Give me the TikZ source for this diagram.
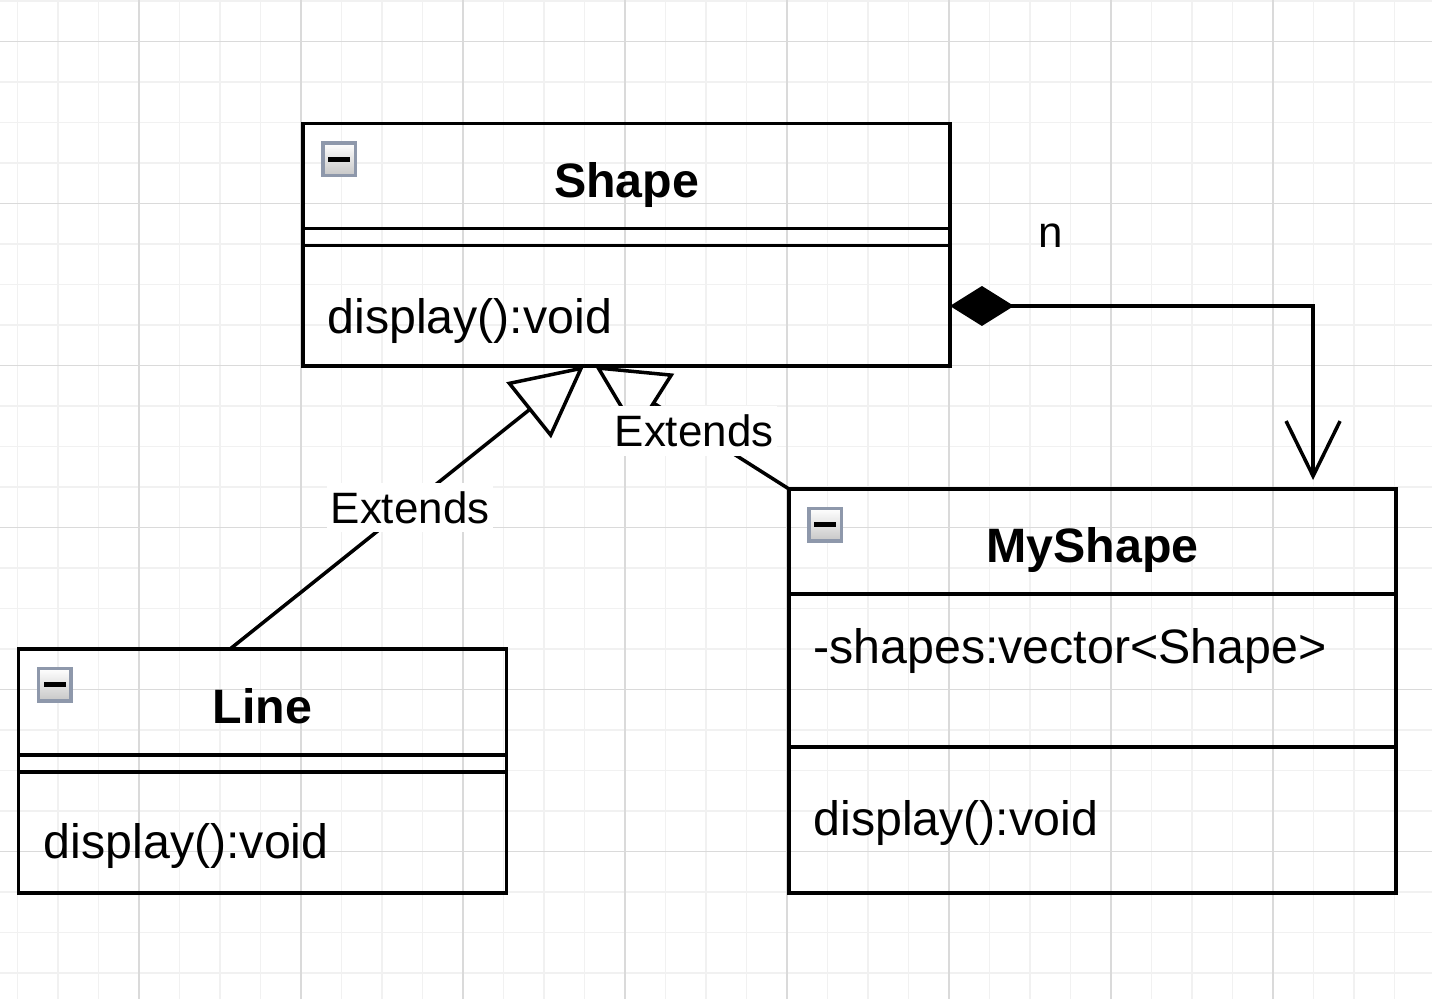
\documentclass[tikz,border=0pt]{standalone}
\usepackage{fontspec}
\setmainfont{Liberation Sans}
\usetikzlibrary{calc,arrows.meta}

\definecolor{gridmajor}{HTML}{DADADA}
\definecolor{gridminor}{HTML}{F1F1F1}
\definecolor{icongray}{HTML}{8E98AB}

\tikzset{
  classbox/.style={draw,line width=2.1pt,inner sep=0pt,outer sep=0pt},
  classname/.style={font=\fontsize{27.5}{33}\selectfont\bfseries,anchor=base,inner sep=0pt},
  member/.style={font=\fontsize{27.5}{33}\selectfont,anchor=base west,inner sep=0pt},
  divider/.style={line width=2pt},
  edgelabel/.style={font=\fontsize{25}{30}\selectfont,fill=white,inner xsep=2pt,inner ysep=5pt},
  multlabel/.style={font=\fontsize{25}{30}\selectfont,anchor=base,inner sep=0pt},
  iconbox/.style={draw=icongray,line width=2pt,minimum size=0.65cm,inner sep=0pt,
    top color=white,bottom color=black!22,
    path picture={\fill ([xshift=-0.22cm,yshift=-0.05cm]path picture bounding box.center)
      rectangle ++(0.44cm,0.1cm);}},
  extends/.style={line width=2pt,-{Triangle[open,length=1.42cm,width=1.42cm]}},
  compose/.style={line width=2pt,line join=miter,
    {Diamond[length=1.28cm,width=0.8cm]}-{Straight Barb[length=1.1cm,width=1.08cm]}}
}

\begin{document}
\begin{tikzpicture}[x=0.02cm,y=-0.02cm]

\useasboundingbox (0,0) rectangle (1432,999);

% -----------------------
% Background grid
% -----------------------
\foreach \i in {0,...,35} {
  \draw[gridminor,line width=0.6pt] ({17.5+40.5*\i},0) -- ({17.5+40.5*\i},999);
}
\foreach \j in {0,...,24} {
  \draw[gridminor,line width=0.6pt] (0,{1+40.5*\j}) -- (1432,{1+40.5*\j});
}
\foreach \i in {1,...,8} {
  \draw[gridmajor,line width=0.6pt] ({-23+162*\i},0) -- ({-23+162*\i},999);
}
\foreach \j in {0,...,5} {
  \draw[gridmajor,line width=0.6pt] (0,{41.5+162*\j}) -- (1432,{41.5+162*\j});
}

% -----------------------
% Classes
% -----------------------
\node[classbox,minimum width=12.94cm,minimum height=4.85cm] (shape) at (626.5,244.75) {};
\node[classbox,minimum width=9.76cm,minimum height=4.88cm] (line) at (262.5,771) {};
\node[classbox,minimum width=12.14cm,minimum height=8.08cm] (myshape) at (1092.5,691) {};

% Shape
\node[iconbox] (shapeicon) at ($(shape.north west)+(36,35.5)$) {};
\node[classname] (shapename) at ($(shape.north)+(0,73.5)$) {Shape};
\draw[divider] ($(shape.north west)+(0,105)$) -- ($(shape.north east)+(0,105)$);
\draw[divider] ($(shape.north west)+(0,122)$) -- ($(shape.north east)+(0,122)$);
\node[member] (shapeop) at ($(shape.north west)+(24,209.5)$) {display():void};

% Line
\node[iconbox] (lineicon) at ($(line.north west)+(36,35.5)$) {};
\node[classname] (linename) at ($(line.north)+(0,74)$) {Line};
\draw[divider] ($(line.north west)+(0,106)$) -- ($(line.north east)+(0,106)$);
\draw[divider] ($(line.north west)+(0,123)$) -- ($(line.north east)+(0,123)$);
\node[member] (lineop) at ($(line.north west)+(25,209)$) {display():void};

% MyShape
\node[iconbox] (myshapeicon) at ($(myshape.north west)+(36,35.5)$) {};
\node[classname] (myshapename) at ($(myshape.north)+(0,73)$) {MyShape};
\draw[divider] ($(myshape.north west)+(0,105)$) -- ($(myshape.north east)+(0,105)$);
\draw[divider] ($(myshape.north west)+(0,258)$) -- ($(myshape.north east)+(0,258)$);
\node[member] (myshapeattr) at ($(myshape.north west)+(24,174)$) {-shapes:vector<Shape>};
\node[member] (myshapeop) at ($(myshape.north west)+(24,346)$) {display():void};

% -----------------------
% Relations
% -----------------------
\draw[extends] ($(line.north west)+(211.5,0)$) -- node[edgelabel,xshift=0.06cm] (lineext) {Extends}
  ($(shape.south west)+(281,0)$);
\draw[extends] (myshape.north west) -- node[edgelabel,xshift=0.04cm,yshift=-0.07cm] (myshapeext) {Extends}
  ($(shape.south west)+(292,0)$);

\draw[compose,shorten >=0.18cm] ($(shape.south east)+(0,-60)$) -| ($(myshape.north west)+(524,0)$);
\node[multlabel] (mult) at (1051,248) {n};

\end{tikzpicture}
\end{document}
